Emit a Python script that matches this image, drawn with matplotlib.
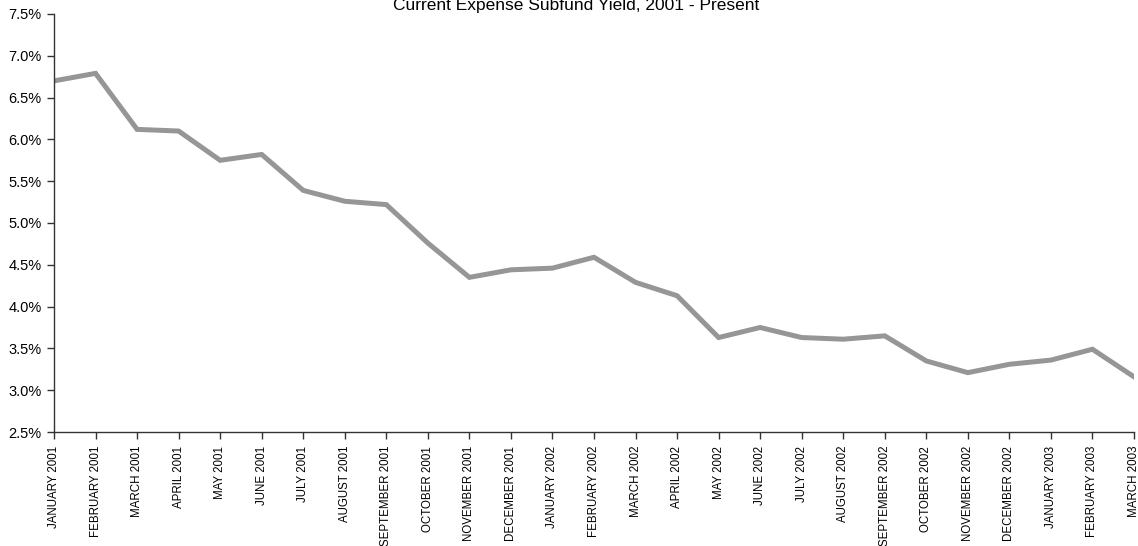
import numpy as np
import matplotlib.pyplot as plt
from matplotlib.ticker import FuncFormatter

plt.rcParams['font.family'] = ['Liberation Sans', 'DejaVu Sans']

months = ["JANUARY 2001", "FEBRUARY 2001", "MARCH 2001", "APRIL 2001", "MAY 2001",
          "JUNE 2001", "JULY 2001", "AUGUST 2001", "SEPTEMBER 2001", "OCTOBER 2001",
          "NOVEMBER 2001", "DECEMBER 2001", "JANUARY 2002", "FEBRUARY 2002",
          "MARCH 2002", "APRIL 2002", "MAY 2002", "JUNE 2002", "JULY 2002",
          "AUGUST 2002", "SEPTEMBER 2002", "OCTOBER 2002", "NOVEMBER 2002",
          "DECEMBER 2002", "JANUARY 2003", "FEBRUARY 2003", "MARCH 2003"]
# yield in percent
yields = [6.70, 6.79, 6.12, 6.10, 5.75, 5.82, 5.39, 5.26, 5.22, 4.76,
          4.35, 4.44, 4.46, 4.59, 4.29, 4.13, 3.63, 3.75, 3.63, 3.61,
          3.65, 3.35, 3.21, 3.31, 3.36, 3.49, 3.16]
yticks = np.arange(2.5, 7.51, 0.5)

fig = plt.figure(figsize=(11.38, 5.46), dpi=100)
ax = fig.add_axes([54 / 1138, 114 / 546, 1080 / 1138, 418 / 546])

x = np.arange(len(months))
ax.plot(x, yields, color='#969696', lw=3.6, solid_joinstyle='miter')

ax.set_xlim(0, len(months) - 1)
ax.set_ylim(2.5, 7.5)
ax.set_yticks(yticks)
ax.yaxis.set_major_formatter(FuncFormatter(lambda v, p: f"{v:.1f}%"))
ax.set_xticks(x)
ax.set_xticklabels(months, rotation=90, fontsize=8.3)
ax.tick_params(axis='y', labelsize=10.5, length=5, width=1, color='#333333', pad=4)
ax.tick_params(axis='x', length=5, width=1, color='#333333', pad=5)

for s in ['top', 'right']:
    ax.spines[s].set_visible(False)
for s in ['left', 'bottom']:
    ax.spines[s].set_color('#333333')
    ax.spines[s].set_linewidth(1)

fig.text(0.506, 0.982, "Current Expense Subfund Yield, 2001 - Present",
         ha='center', va='baseline', fontsize=12.5)

fig.savefig('out.png', dpi=100)
